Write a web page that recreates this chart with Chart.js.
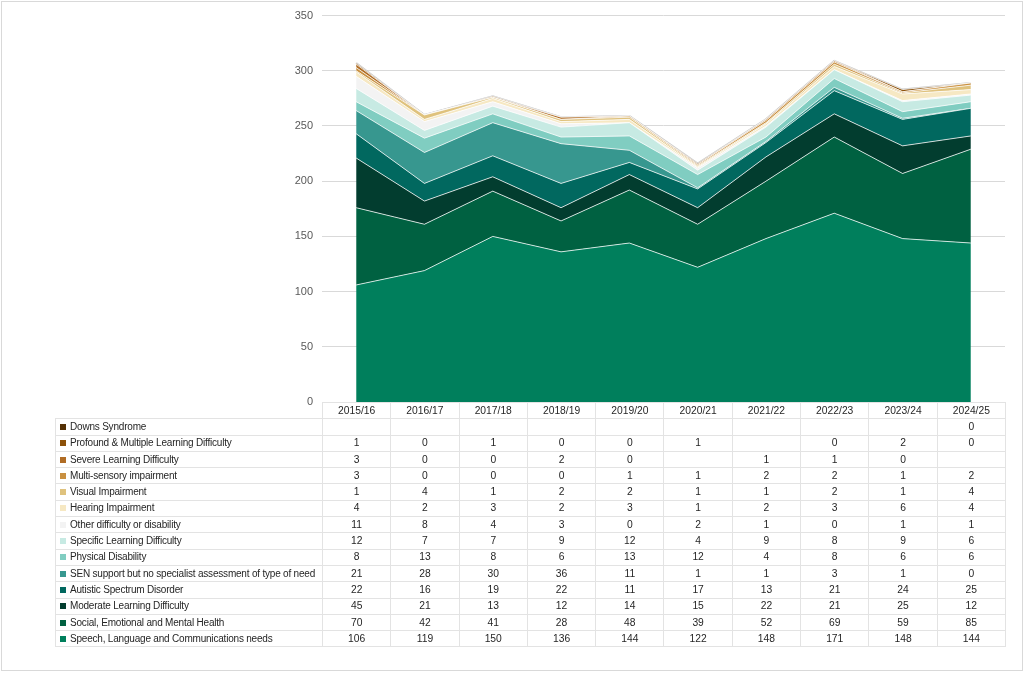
<!DOCTYPE html>
<html>
    <head>
        <meta charset="utf-8">
        <script src="https://cdn.jsdelivr.net/npm/chart.js@4.4.0/dist/chart.umd.min.js"></script>
        <style>
            body { margin: 0; background: #fff; font-family: "Liberation Sans", Arial, sans-serif; }
            #rama { position: absolute; left: 1px; top: 1px; width: 1020px; height: 668px; border: 1px solid #d9d9d9; }
            #wykres { position: absolute; left: 0; top: 0; }
            #tabela { position: absolute; left: 55px; top: 402px; width: 950px; border-collapse: collapse; table-layout: fixed; font-size: 10.3px; color: #262626; }
            #tabela tr { height: 16.3px; }
            #tabela td { border: 1px solid #e3e3e3; padding: 0; text-align: center; white-space: nowrap; overflow: hidden; line-height: 14px; }
            #tabela td.nazwa { text-align: left; padding-left: 4px; font-size: 10px; letter-spacing: -0.2px; }
            #tabela td.pusty { border: none; }
            .kwadrat { display: inline-block; width: 6px; height: 6px; margin-right: 4px; vertical-align: 0px; }
        </style>
    </head>
    <body>
        <div id="rama"></div>
        <canvas id="wykres" width="1024" height="673"></canvas>
        <table id="tabela"></table>
        <script>
            var lata = ["2015/16", "2016/17", "2017/18", "2018/19", "2019/20", "2020/21", "2021/22", "2022/23", "2023/24", "2024/25"];

            // od dołu stosu do góry
            var mowa       = [106, 119, 150, 136, 144, 122, 148, 171, 148, 144];
            var emocje     = [70, 42, 41, 28, 48, 39, 52, 69, 59, 85];
            var umiarkowane = [45, 21, 13, 12, 14, 15, 22, 21, 25, 12];
            var autyzm     = [22, 16, 19, 22, 11, 17, 13, 21, 24, 25];
            var senBez     = [21, 28, 30, 36, 11, 1, 1, 3, 1, 0];
            var fizyczna   = [8, 13, 8, 6, 13, 12, 4, 8, 6, 6];
            var specyficzne = [12, 7, 7, 9, 12, 4, 9, 8, 9, 6];
            var inne       = [11, 8, 4, 3, 0, 2, 1, 0, 1, 1];
            var sluch      = [4, 2, 3, 2, 3, 1, 2, 3, 6, 4];
            var wzrok      = [1, 4, 1, 2, 2, 1, 1, 2, 1, 4];
            var wielozmysl = [3, 0, 0, 0, 1, 1, 2, 2, 1, 2];
            var powazne    = [3, 0, 0, 2, 0, null, 1, 1, 0, null];
            var glebokie   = [1, 0, 1, 0, 0, 1, null, 0, 2, 0];
            var down       = [null, null, null, null, null, null, null, null, null, 0];

            var serie = [
                { nazwa: "Speech, Language and Communications needs", dane: mowa, kolor: "#007f5c" },
                { nazwa: "Social, Emotional and Mental Health", dane: emocje, kolor: "#006141" },
                { nazwa: "Moderate Learning Difficulty", dane: umiarkowane, kolor: "#023d2f" },
                { nazwa: "Autistic Spectrum Disorder", dane: autyzm, kolor: "#01685f" },
                { nazwa: "SEN support but no specialist assessment of type of need", dane: senBez, kolor: "#37978f" },
                { nazwa: "Physical Disability", dane: fizyczna, kolor: "#80cdc1" },
                { nazwa: "Specific Learning Difficulty", dane: specyficzne, kolor: "#c7eae3" },
                { nazwa: "Other difficulty or disability", dane: inne, kolor: "#f3f3f3" },
                { nazwa: "Hearing Impairment", dane: sluch, kolor: "#f6e8c3" },
                { nazwa: "Visual Impairment", dane: wzrok, kolor: "#dfc27d" },
                { nazwa: "Multi-sensory impairment", dane: wielozmysl, kolor: "#c99040" },
                { nazwa: "Severe Learning Difficulty", dane: powazne, kolor: "#b06c24" },
                { nazwa: "Profound & Multiple Learning Difficulty", dane: glebokie, kolor: "#8c510a" },
                { nazwa: "Downs Syndrome", dane: down, kolor: "#543005" }
            ];

            var zestawy = serie.map(function (s, i) {
                var ostatni = i == serie.length - 1;
                return {
                    label: s.nazwa,
                    data: s.dane.map(function (v) { return v == null ? 0 : v; }),
                    backgroundColor: s.kolor,
                    borderColor: ostatni ? "#c8c8c8" : "rgba(255,255,255,0.75)",
                    borderWidth: ostatni ? 2 : 1,
                    fill: i == 0 ? "origin" : "-1",
                    pointRadius: 0,
                    tension: 0
                };
            });

            const ctx = document.getElementById("wykres").getContext("2d");
            const wykres = new Chart(ctx, {
                type: "line",
                data: { labels: lata, datasets: zestawy },
                options: {
                    responsive: false,
                    animation: false,
                    layout: { padding: { left: 0, right: 19, top: 15, bottom: 271 } },
                    plugins: { legend: { display: false }, tooltip: { enabled: false } },
                    scales: {
                        x: {
                            offset: true,
                            ticks: { display: false },
                            grid: { display: false },
                            border: { display: false },
                            afterFit: function (skala) { skala.height = 0; }
                        },
                        y: {
                            stacked: true,
                            min: 0,
                            max: 350,
                            ticks: { stepSize: 50, color: "#595959", font: { size: 11, family: "Liberation Sans" }, padding: 9 },
                            grid: { color: "#d9d9d9", drawTicks: false },
                            border: { display: false },
                            afterFit: function (skala) { skala.width = 322; }
                        }
                    }
                }
            });

            // tabela danych pod wykresem
            var tabela = document.getElementById("tabela");
            var html = "<colgroup><col style='width:267px'>";
            lata.forEach(function () { html += "<col style='width:68.3px'>"; });
            html += "</colgroup><tr><td class='pusty'></td>";
            lata.forEach(function (r) { html += "<td>" + r + "</td>"; });
            html += "</tr>";
            serie.slice().reverse().forEach(function (s) {
                html += "<tr><td class='nazwa'><span class='kwadrat' style='background:" + s.kolor + "'></span>" + s.nazwa + "</td>";
                s.dane.forEach(function (v) { html += "<td>" + (v == null ? "" : v) + "</td>"; });
                html += "</tr>";
            });
            tabela.innerHTML = html;
        </script>
    </body>
</html>
